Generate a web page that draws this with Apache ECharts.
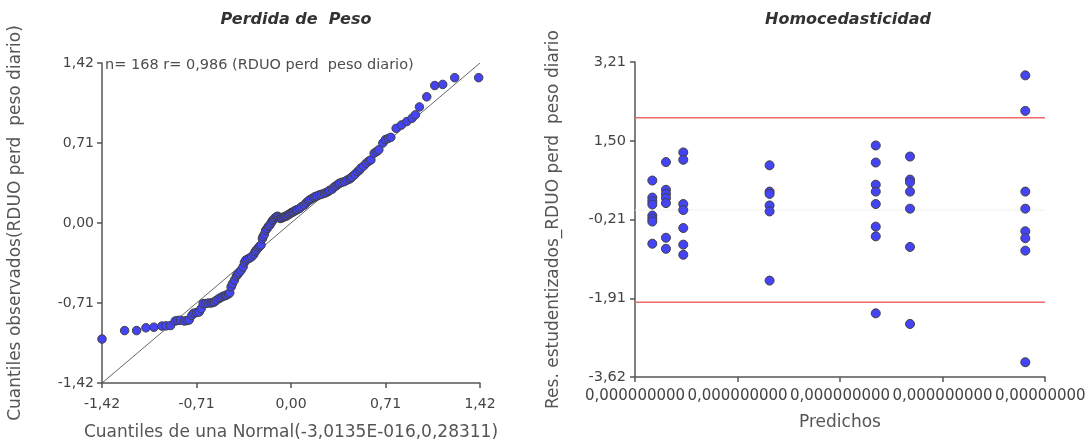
<!DOCTYPE html>
<html>
<head>
<meta charset="utf-8">
<script src="https://cdn.jsdelivr.net/npm/echarts@6/dist/echarts.min.js"></script>
<style>
html,body{margin:0;padding:0;background:#fff;}
#chart{width:1086px;height:442px;}
</style>
</head>
<body>
<div id="chart"></div>
<script>
// ---- Left panel: Q-Q plot (Perdida de Peso) ----
const qqTeorico = [-1.42,-1.25,-1.16,-1.09,-1.03,-0.97,-0.94,-0.905,-0.87,-0.85,-0.83,-0.80,-0.78,-0.765,-0.745,-0.73,-0.71,-0.69,-0.675,-0.66,-0.64,-0.62,-0.60,-0.585,-0.575,-0.56,-0.54,-0.525,-0.51,-0.495,-0.486,-0.47,-0.46,-0.45,-0.44,-0.425,-0.41,-0.40,-0.39,-0.375,-0.36,-0.35,-0.34,-0.325,-0.31,-0.295,-0.28,-0.27,-0.26,-0.245,-0.235,-0.225,-0.215,-0.21,-0.20,-0.19,-0.18,-0.17,-0.16,-0.15,-0.14,-0.13,-0.12,-0.11,-0.10,-0.09,-0.08,-0.07,-0.06,-0.05,-0.04,-0.03,-0.02,-0.01,0.0,0.01,0.02,0.03,0.04,0.05,0.065,0.08,0.10,0.115,0.13,0.14,0.155,0.17,0.18,0.195,0.215,0.23,0.25,0.265,0.28,0.29,0.31,0.325,0.34,0.355,0.365,0.38,0.40,0.42,0.44,0.45,0.46,0.48,0.50,0.515,0.525,0.545,0.565,0.585,0.60,0.625,0.645,0.66,0.69,0.71,0.73,0.75,0.79,0.83,0.87,0.91,0.935,0.965,1.02,1.08,1.14,1.23,1.41];
const qqObservado = [-1.03,-0.955,-0.955,-0.93,-0.925,-0.915,-0.913,-0.91,-0.87,-0.865,-0.863,-0.87,-0.865,-0.86,-0.82,-0.80,-0.795,-0.79,-0.76,-0.715,-0.715,-0.71,-0.71,-0.705,-0.70,-0.685,-0.67,-0.66,-0.65,-0.645,-0.64,-0.63,-0.62,-0.567,-0.54,-0.507,-0.47,-0.455,-0.44,-0.42,-0.39,-0.35,-0.33,-0.32,-0.31,-0.30,-0.28,-0.255,-0.24,-0.22,-0.205,-0.195,-0.14,-0.12,-0.10,-0.065,-0.05,-0.03,-0.02,0.0,0.02,0.03,0.045,0.055,0.06,0.05,0.04,0.045,0.05,0.055,0.06,0.065,0.075,0.08,0.09,0.095,0.10,0.11,0.115,0.12,0.13,0.145,0.16,0.18,0.195,0.205,0.215,0.225,0.234,0.24,0.25,0.255,0.264,0.27,0.28,0.29,0.30,0.32,0.33,0.345,0.353,0.36,0.367,0.38,0.39,0.40,0.41,0.43,0.455,0.47,0.487,0.505,0.53,0.55,0.56,0.62,0.635,0.65,0.71,0.74,0.75,0.76,0.84,0.87,0.90,0.93,0.96,1.03,1.12,1.22,1.23,1.29,1.29];
const qqRange = [-1.42, 1.42];
const qqTickLabels = ["-1,42", "-0,71", "0,00", "0,71", "1,42"];
const qqNote = "n= 168 r= 0,986 (RDUO perd  peso diario)";

// ---- Right panel: Homocedasticidad ----
const predichos = [
  0.169,0.169,0.169,0.169,0.169,0.169,0.169,0.169,
  0.302,0.302,0.302,0.302,0.302,0.302,0.302,
  0.471,0.471,0.471,0.471,0.471,0.471,0.471,
  1.313,1.313,1.313,1.313,1.313,1.313,
  2.349,2.349,2.349,2.349,2.349,2.349,2.349,2.349,
  2.683,2.683,2.683,2.683,2.683,2.683,2.683,
  3.808,3.808,3.808,3.808,3.808,3.808,3.808,3.808
];
const residuos = [
  0.64,0.27,0.19,0.12,-0.12,-0.19,-0.25,-0.73,
  1.04,0.44,0.35,0.26,0.15,-0.60,-0.84,
  1.25,1.09,0.13,0.00,-0.39,-0.75,-0.97,
  0.97,0.40,0.35,0.10,-0.03,-1.53,
  1.40,1.03,0.55,0.40,0.13,-0.36,-0.57,-2.24,
  1.16,0.66,0.60,0.40,0.03,-0.80,-2.47,
  2.92,2.15,0.40,0.03,-0.46,-0.61,-0.88,-3.30
];
const resRange = [-3.62, 3.21];
const resTickValues = [-3.62, -1.9125, -0.205, 1.5025, 3.21];
const resTickLabels = ["-3,62", "-1,91", "-0,21", "1,50", "3,21"];
const predRange = [0, 4];
const predTickValues = [0, 1, 2, 3, 4];
const predTickLabels = ["0,000000000", "0,000000000", "0,000000000", "0,000000000", "0,000000000"];
const limites = [2, -2];
const cero = 0;

const FONT = "DejaVu Sans";
const chart = echarts.init(document.getElementById('chart'), null, {renderer: 'canvas'});

const axisLineStyle = {show: true, onZero: false, lineStyle: {color: '#555', width: 1.5}};
const axisTickStyle = {show: true, length: 5, lineStyle: {color: '#555', width: 1.5}};

const qqPoints = qqTeorico.map((x, i) => [x, qqObservado[i]]);
const resPoints = predichos.map((x, i) => [x, residuos[i]]);

function nearestLabel(values, labels, v) {
  let best = 0, bd = Infinity;
  values.forEach((t, i) => { const d = Math.abs(t - v); if (d < bd) { bd = d; best = i; } });
  return labels[best];
}

const option = {
  animation: false,
  backgroundColor: '#fff',
  title: [
    {text: 'Perdida de  Peso', left: 291, top: 7, textAlign: 'center',
     textStyle: {fontFamily: FONT, fontSize: 16, fontStyle: 'italic', fontWeight: 'bold', color: '#333'}},
    {text: 'Homocedasticidad', left: 843, top: 7, textAlign: 'center',
     textStyle: {fontFamily: FONT, fontSize: 16, fontStyle: 'italic', fontWeight: 'bold', color: '#333'}}
  ],
  graphic: [
    {type: 'text', left: 105, top: 58,
     style: {text: qqNote, font: '14.5px "DejaVu Sans"', fill: '#4d4d4d'}}
  ],
  grid: [
    {left: 102, top: 63, width: 378, height: 320, containLabel: false, outerBoundsMode: 'none'},
    {left: 635, top: 62, width: 410, height: 315, containLabel: false, outerBoundsMode: 'none'}
  ],
  xAxis: [
    {type: 'value', gridIndex: 0, min: qqRange[0], max: qqRange[1], interval: 0.71,
     name: 'Cuantiles de una Normal(-3,0135E-016,0,28311)', nameLocation: 'middle', nameGap: 41,
     nameTextStyle: {fontFamily: FONT, fontSize: 17, color: '#555'},
     axisLine: axisLineStyle, axisTick: axisTickStyle, splitLine: {show: false},
     axisLabel: {fontFamily: FONT, fontSize: 14, color: '#444', margin: 14,
       formatter: v => qqTickLabels[Math.round((v - qqRange[0]) / 0.71)]}},
    {type: 'value', gridIndex: 1, min: predRange[0], max: predRange[1], interval: 1,
     name: 'Predichos', nameLocation: 'middle', nameGap: 37,
     nameTextStyle: {fontFamily: FONT, fontSize: 17, color: '#555'},
     axisLine: axisLineStyle,
     axisTick: {show: true, length: 5, lineStyle: {color: '#555', width: 1.5}, customValues: predTickValues},
     splitLine: {show: false},
     axisLabel: {fontFamily: FONT, fontSize: 15, color: '#444', margin: 12, interval: 0,
       showMinLabel: true, showMaxLabel: true,
       hideOverlap: false, customValues: predTickValues,
       formatter: v => nearestLabel(predTickValues, predTickLabels, v)}}
  ],
  yAxis: [
    {type: 'value', gridIndex: 0, min: qqRange[0], max: qqRange[1], interval: 0.71,
     name: 'Cuantiles observados(RDUO perd  peso diario)', nameLocation: 'middle', nameGap: 78, nameRotate: 90,
     nameTextStyle: {fontFamily: FONT, fontSize: 17, color: '#555'},
     axisLine: axisLineStyle, axisTick: axisTickStyle, splitLine: {show: false},
     axisLabel: {fontFamily: FONT, fontSize: 14, color: '#444', margin: 8,
       formatter: v => qqTickLabels[Math.round((v - qqRange[0]) / 0.71)]}},
    {type: 'value', gridIndex: 1, min: resRange[0], max: resRange[1],
     name: 'Res. estudentizados_RDUO perd  peso diario', nameLocation: 'middle', nameGap: 73, nameRotate: 90,
     nameTextStyle: {fontFamily: FONT, fontSize: 17, color: '#555'},
     axisLine: axisLineStyle,
     axisTick: {show: true, length: 5, lineStyle: {color: '#555', width: 1.5}, customValues: resTickValues},
     splitLine: {show: false},
     axisLabel: {fontFamily: FONT, fontSize: 14.5, color: '#444', margin: 9, customValues: resTickValues,
       showMinLabel: true, showMaxLabel: true,
       formatter: v => nearestLabel(resTickValues, resTickLabels, v)}}
  ],
  series: [
    {type: 'line', xAxisIndex: 0, yAxisIndex: 0, symbol: 'none', silent: true, z: 1,
     data: [[qqRange[0], qqRange[0]], [qqRange[1], qqRange[1]]],
     lineStyle: {color: '#555', width: 0.9}},
    {type: 'scatter', xAxisIndex: 0, yAxisIndex: 0, symbol: 'circle', symbolSize: 8.5, z: 2, clip: false,
     data: qqPoints,
     itemStyle: {color: '#4444f4', borderColor: '#404040', borderWidth: 1, opacity: 1}},
    {type: 'line', xAxisIndex: 1, yAxisIndex: 1, symbol: 'none', silent: true, z: 1,
     data: [[predRange[0], cero], [predRange[1], cero]],
     lineStyle: {color: '#f0f0f0', width: 1}},
    {type: 'line', xAxisIndex: 1, yAxisIndex: 1, symbol: 'none', silent: true, z: 1,
     data: [[predRange[0], limites[0]], [predRange[1], limites[0]]],
     lineStyle: {color: '#f06a6a', width: 1.5}},
    {type: 'line', xAxisIndex: 1, yAxisIndex: 1, symbol: 'none', silent: true, z: 1,
     data: [[predRange[0], limites[1]], [predRange[1], limites[1]]],
     lineStyle: {color: '#f06a6a', width: 1.5}},
    {type: 'scatter', xAxisIndex: 1, yAxisIndex: 1, symbol: 'circle', symbolSize: 9, z: 2,
     data: resPoints,
     itemStyle: {color: '#4444f4', borderColor: '#404040', borderWidth: 1, opacity: 1}}
  ]
};
chart.setOption(option);
</script>
</body>
</html>
